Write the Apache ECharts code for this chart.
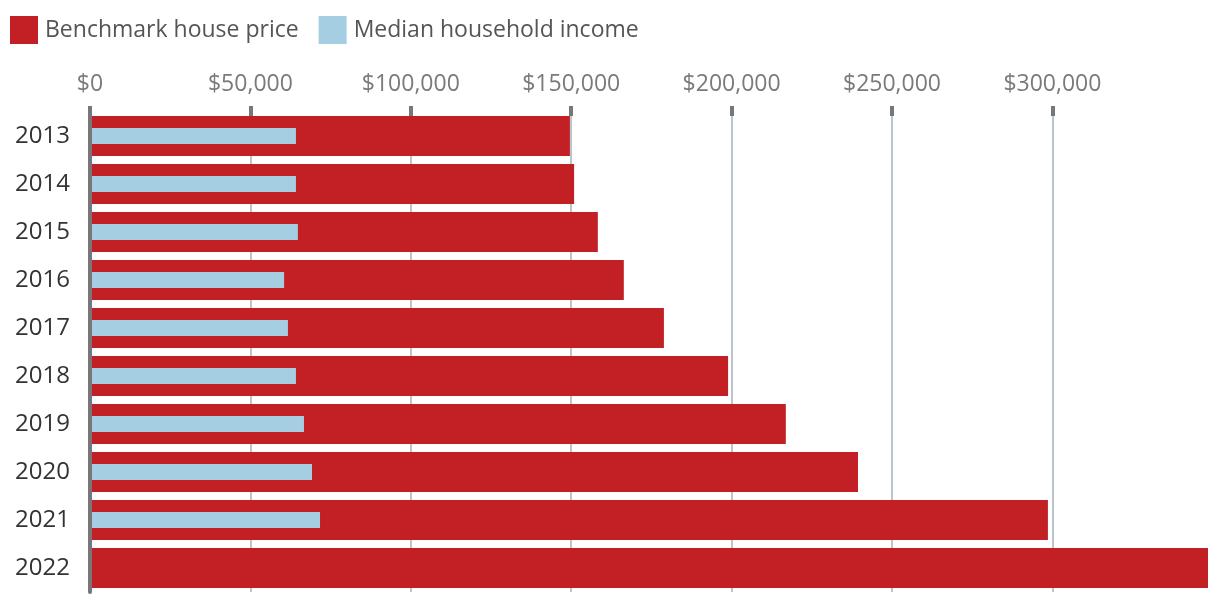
<!DOCTYPE html>
<html>
<head>
<meta charset="utf-8">
<script src="https://cdn.jsdelivr.net/npm/echarts@6/dist/echarts.min.js"></script>
<style>html,body{margin:0;padding:0;background:#fff}#c{width:1220px;height:600px}</style>
</head>
<body>
<div id="c"></div>
<script>
const years = ['2013','2014','2015','2016','2017','2018','2019','2020','2021','2022'];
const housePrice = [149600, 150900, 158300, 166400, 178900, 198900, 216900, 239400, 298600, 348500];
const medianIncome = [64200, 64200, 64800, 60500, 61700, 64200, 66700, 69200, 71700, null];
const tickValues = [0, 50000, 100000, 150000, 200000, 250000, 300000];
const seriesNames = ['Benchmark house price', 'Median household income'];

const FONT = '"Open Sans", "DejaVu Sans", sans-serif';
const chart = echarts.init(document.getElementById('c'), null, {renderer: 'canvas'});
chart.setOption({
  animation: false,
  textStyle: {fontFamily: FONT},
  legend: {
    left: 5, top: 11, itemWidth: 28, itemHeight: 28, itemGap: 20,
    icon: 'rect',
    textStyle: {fontSize: 23, color: '#555', fontFamily: FONT, padding: [0, 0, 0, 2]},
    data: seriesNames
  },
  grid: {left: 90, right: 12, top: 112, bottom: 8, containLabel: false, outerBoundsMode: 'none'},
  xAxis: {
    type: 'value', position: 'top', min: 0, max: 'dataMax',
    offset: -4,
    axisLine: {show: false},
    axisTick: {show: true, length: 10, customValues: tickValues, lineStyle: {color: '#777', width: 4}},
    axisLabel: {
      color: '#7a7a7a', fontSize: 23, fontFamily: FONT, margin: 20,
      customValues: tickValues,
      formatter: v => '$' + v.toLocaleString('en-US')
    },
    splitLine: {show: true, lineStyle: {color: '#b9c4cc', width: 2}}
  },
  yAxis: [{
    type: 'category', inverse: true, data: years, z: 10,
    axisLine: {show: true, lineStyle: {color: '#777', width: 4}},
    axisTick: {show: false},
    axisLabel: {color: '#333', fontSize: 24, fontFamily: FONT, margin: 20}
  }, {
    type: 'category', inverse: true, data: years, show: false
  }],
  series: [
    {name: seriesNames[0], type: 'bar', yAxisIndex: 0, data: housePrice, barWidth: 40,
     itemStyle: {color: '#c32026'}},
    {name: seriesNames[1], type: 'bar', yAxisIndex: 1, data: medianIncome, barWidth: 16,
     itemStyle: {color: '#a6cee2'}}
  ]
});
</script>
</body>
</html>
